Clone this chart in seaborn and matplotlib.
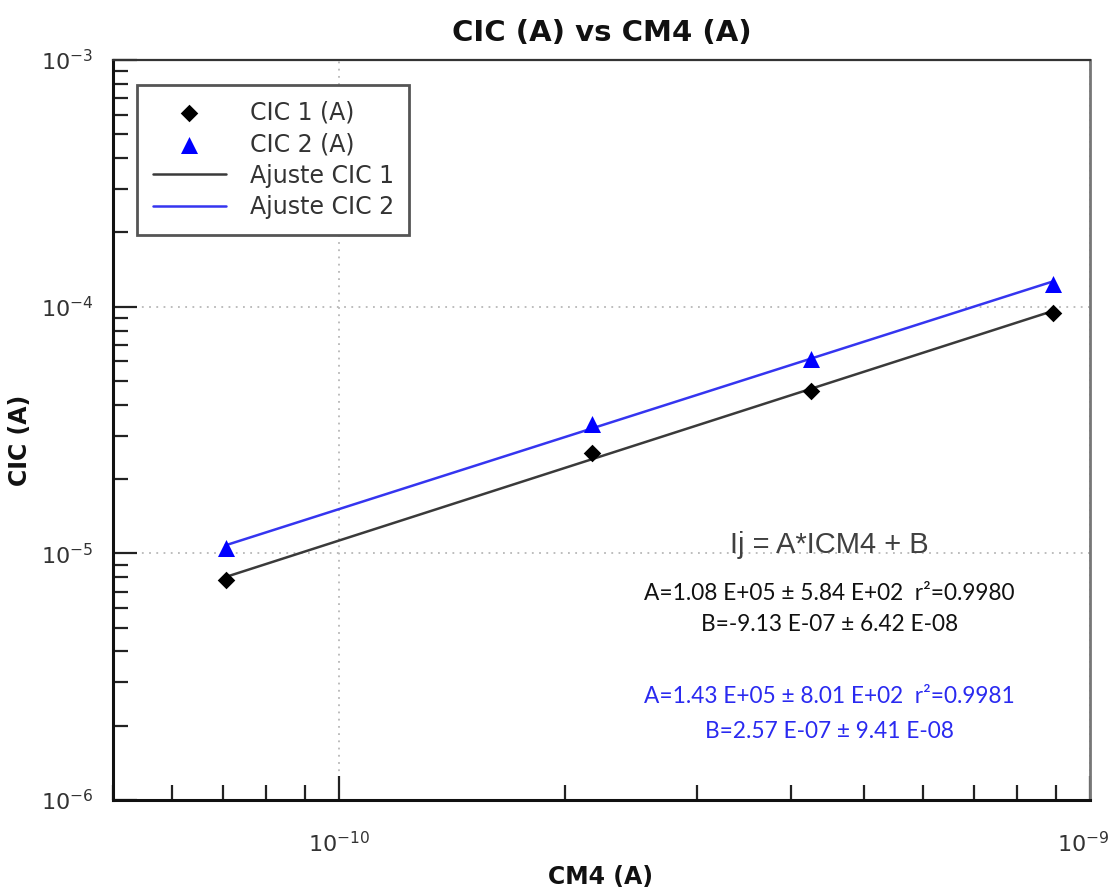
import numpy as np
import pandas as pd
import seaborn as sns
import matplotlib
matplotlib.use("Agg")
import matplotlib.pyplot as plt
from matplotlib.transforms import ScaledTranslation

# ---- data ----
cm4 = [7.06e-11, 2.17e-10, 4.25e-10, 8.93e-10]
cic1 = [7.78e-6, 2.56e-5, 4.57e-5, 9.46e-5]
cic2 = [1.05e-5, 3.36e-5, 6.16e-5, 1.24e-4]
series_labels = ["CIC 1 (A)", "CIC 2 (A)"]
fit_labels = ["Ajuste CIC 1", "Ajuste CIC 2"]
equation = "Ij = A*ICM4 + B"
params1 = ["A=1.08 E+05 ± 5.84 E+02  r²=0.9980", "B=-9.13 E-07 ± 6.42 E-08"]
params2 = ["A=1.43 E+05 ± 8.01 E+02  r²=0.9981", "B=2.57 E-07 ± 9.41 E-08"]
title = "CIC (A) vs CM4 (A)"
xlabel = "CM4 (A)"
ylabel = "CIC (A)"

sns.set_theme(style="white")
plt.rcParams['font.family'] = ['DejaVu Sans']

fig = plt.figure(figsize=(11.14, 8.93), dpi=100)
ax = fig.add_axes([113/1114, 1-800/893, (1090-113)/1114, (800-60)/893])
ax.set_xscale("log")
ax.set_yscale("log")

black = "#000000"
blue = "#0000ff"
line_black = "#3a3a3a"
line_blue = "#3535f0"

df = pd.DataFrame({"x": cm4 * 2, "y": cic1 + cic2,
                   "s": [series_labels[0]] * 4 + [series_labels[1]] * 4})

# fit lines (least squares on the data, straight in log-log)
lx = np.log10(cm4)
for yv, col, lab in [(cic1, line_black, fit_labels[0]), (cic2, line_blue, fit_labels[1])]:
    p = np.polyfit(lx, np.log10(yv), 1)
    xs = np.geomspace(min(cm4), max(cm4), 200)
    sns.lineplot(x=xs, y=10 ** np.polyval(p, np.log10(xs)), color=col, lw=1.8,
                 ax=ax, label=lab, zorder=2)

sns.scatterplot(data=df[df.s == series_labels[0]], x="x", y="y", marker="D", s=80,
                color=black, edgecolor=black, linewidth=0, ax=ax, label=series_labels[0], zorder=3)
sns.scatterplot(data=df[df.s == series_labels[1]], x="x", y="y", marker="^", s=150,
                color=blue, edgecolor=blue, linewidth=0, ax=ax, label=series_labels[1], zorder=3)

ax.set_xlim(5e-11, 1e-9)
ax.set_ylim(1e-6, 1e-3)

ax.set_xticks([1e-10, 1e-9])
ax.set_xticklabels([r"$10^{-10}$", r"$10^{-9}$"])
ax.set_yticks([1e-6, 1e-5, 1e-4, 1e-3])
ax.set_yticklabels([r"$10^{-6}$", r"$10^{-5}$", r"$10^{-4}$", r"$10^{-3}$"])

ax.grid(which="major", linestyle=(0, (1, 3)), color="#b8b8b8", lw=1.3)
ax.grid(which="minor", visible=False)

ax.tick_params(which="both", bottom=True, left=True, top=False, right=False)
ax.tick_params(which="major", direction="in", length=17, width=1.6, color="#222",
               labelsize=16, labelcolor="#333")
ax.tick_params(which="minor", direction="in", length=11, width=1.6, color="#222")
ax.tick_params(axis="x", which="major", pad=22)
ax.tick_params(axis="y", which="major", pad=14)
ax.tick_params(axis="both", which="minor", labelleft=False, labelbottom=False)

# shift the right-most x label a little inwards, as in the reference
last = ax.get_xticklabels()[-1]
last.set_transform(last.get_transform() + ScaledTranslation(-7 / 100, 0, fig.dpi_scale_trans))

for side, lw, col in [("left", 2.2, "#111"), ("bottom", 2.2, "#111"),
                      ("top", 1.6, "#333"), ("right", 2.0, "#777")]:
    ax.spines[side].set_visible(True)
    ax.spines[side].set_linewidth(lw)
    ax.spines[side].set_color(col)

ax.set_title(title, fontsize=21, fontweight="bold", color="#111", pad=14)
ax.set_xlabel(xlabel, fontsize=17, fontweight="bold", color="#111")
ax.set_ylabel(ylabel, fontsize=17, fontweight="bold", color="#111")
ax.xaxis.set_label_coords(0.499, -0.088)
ax.yaxis.set_label_coords(-0.083, 0.486)

# legend in the reference order
h, l = ax.get_legend_handles_labels()
order = [l.index(series_labels[0]), l.index(series_labels[1]),
         l.index(fit_labels[0]), l.index(fit_labels[1])]
leg = ax.legend([h[i] for i in order], [l[i] for i in order],
                loc="upper left", bbox_to_anchor=(0.025, 0.966), borderaxespad=0,
                fontsize=17, frameon=True, fancybox=False, framealpha=1,
                edgecolor="#555", labelspacing=0.32, handlelength=3.1,
                handletextpad=1.0, borderpad=0.65, scatterpoints=1)
leg.get_frame().set_linewidth(2)
for t in leg.get_texts():
    t.set_color("#333")

cx = 0.7336
ax.text(cx, 0.3446, equation, transform=ax.transAxes, ha="center", va="center",
        fontsize=21, color="#404040", family=["Liberation Sans", "DejaVu Sans"])
for yy, txt in zip([0.2797, 0.2365], params1):
    ax.text(cx, yy, txt, transform=ax.transAxes, ha="center", va="center",
            fontsize=16.3, color="#111", family=["Lato", "DejaVu Sans"])
for yy, txt in zip([0.1392, 0.0932], params2):
    ax.text(cx, yy, txt, transform=ax.transAxes, ha="center", va="center",
            fontsize=16.3, color="#2a2af0", family=["Lato", "DejaVu Sans"])

fig.savefig("out.png", dpi=100)
